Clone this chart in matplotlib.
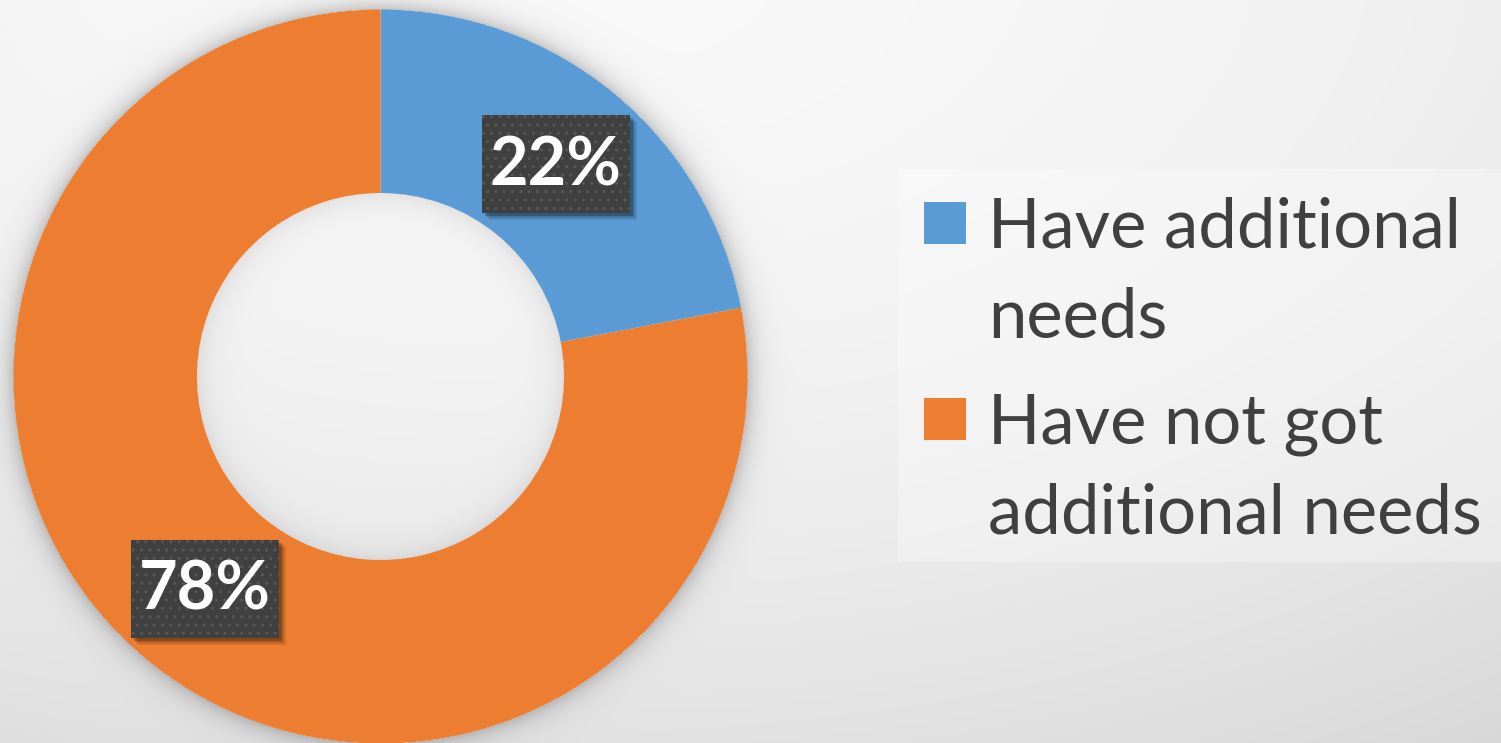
import numpy as np
import matplotlib
matplotlib.use("Agg")
import matplotlib.pyplot as plt
from matplotlib.patches import Rectangle

# data
categories = ["Have additional needs", "Have not got additional needs"]
legend_lines = [["Have additional", "needs"], ["Have not got", "additional needs"]]
shares = [22, 78]
colors = ["#5B9BD5", "#ED7D31"]

W, H = 1501, 743
fig = plt.figure(figsize=(W / 100, H / 100), dpi=100)
ax = fig.add_axes([0, 0, 1, 1])

cx, cy = 380.5, H - 376.5
r_out, r_in = 367.0, 183.5

# soft grey backdrop with the ring's shadow baked in
yy, xx = np.mgrid[0:H, 0:W] + 0.5
rr = ((xx - 550) / 1500) ** 2 + ((yy + 50) / 850) ** 2
bg = 0.975 - 0.10 * rr
d = np.hypot(xx - cx, yy - (H - cy))
outer = np.where(d > r_out, 0.20 * np.exp(-(d - r_out) / 11.0), 0)
inner = np.where(d < r_in, 0.08 * np.exp(-(r_in - d) / 14.0), 0)
bg = bg * (1 - outer) * (1 - inner)
ax.imshow(np.dstack([bg, bg, bg]), extent=(0, W, 0, H), origin="upper",
          interpolation="bilinear", zorder=0)

wedges, _ = ax.pie(shares, colors=colors, startangle=90, counterclock=False,
                   radius=r_out, center=(cx, cy),
                   wedgeprops=dict(width=r_out - r_in, edgecolor="none"))
for w in wedges:
    w.set_zorder(2)

# value boxes in the middle of each ring segment
bw, bh = 148, 98
for w, v in zip(wedges, shares):
    ang = np.deg2rad((w.theta1 + w.theta2) / 2)
    rm = w.r - w.width / 2
    x = cx + rm * np.cos(ang)
    y = cy + rm * np.sin(ang)
    for k, a in [(7, 0.10), (5, 0.15), (3, 0.25)]:
        ax.add_patch(Rectangle((x - bw / 2 + k, y - bh / 2 - k), bw, bh,
                               facecolor="black", alpha=a, lw=0, zorder=3))
    ax.add_patch(Rectangle((x - bw / 2, y - bh / 2), bw, bh, facecolor="#404040",
                           edgecolor="#585858", hatch="..", lw=0, zorder=4))
    ax.text(x, y - 2, f"{v}%", color="white", fontsize=48, fontweight="bold",
            family="Lato", ha="center", va="center", zorder=5)

# legend panel
ax.add_patch(Rectangle((898, H - 562), W - 898, 562 - 169, facecolor="white",
                       alpha=0.3, lw=0, zorder=1))
marker_tops = [202, 398]
baselines = [[247, 337], [443, 533]]
for lines, c, top, bl in zip(legend_lines, colors, marker_tops, baselines):
    ax.add_patch(Rectangle((924, H - top - 42), 42, 42, facecolor=c, lw=0, zorder=2))
    for line, b in zip(lines, bl):
        ax.text(988, H - b, line, color="#404040", fontsize=49.5, family="Lato",
                ha="left", va="baseline", zorder=2)

ax.set_xlim(0, W)
ax.set_ylim(0, H)
ax.set_aspect("auto")
ax.axis("off")

fig.savefig("out.png", dpi=100)
